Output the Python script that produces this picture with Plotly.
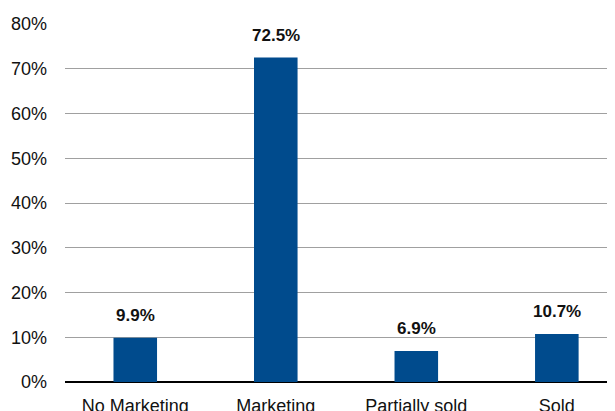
import plotly.graph_objects as go

categories = ["No Marketing", "Marketing", "Partially sold", "Sold"]
values = [9.9, 72.5, 6.9, 10.7]
labels = ["9.9%", "72.5%", "6.9%", "10.7%"]
y_ticks = [0, 10, 20, 30, 40, 50, 60, 70, 80]

fig = go.Figure(go.Bar(
    x=categories, y=values,
    marker=dict(color="#004B8D", line=dict(width=0)),
    width=0.31,
))
for c, v, t in zip(categories, values, labels):
    fig.add_annotation(x=c, y=v, text=f"<b>{t}</b>", showarrow=False,
                       yanchor="bottom", yshift=11,
                       font=dict(family="Liberation Sans, Arial", size=17, color="#111111"))
fig.update_layout(
    width=607, height=403,
    margin=dict(l=57, r=0, t=16, b=29, autoexpand=False),
    plot_bgcolor="white", paper_bgcolor="white",
    font=dict(family="Liberation Sans, Arial", size=18, color="#111111"),
    showlegend=False,
)
fig.update_xaxes(range=[-0.5, 3.414], showgrid=False, ticks="", showline=False,
                 tickfont=dict(size=18), automargin=False, ticklabelstandoff=11)
fig.update_yaxes(range=[0, 80], tickvals=y_ticks, ticktext=[f"{v}%" for v in y_ticks],
                 showgrid=True, gridcolor="#a0a0a0", gridwidth=1,
                 zeroline=True, zerolinecolor="#000000", zerolinewidth=2,
                 ticks="", ticklabelstandoff=17, tickfont=dict(size=18), automargin=False)
fig.write_html("out.html")
